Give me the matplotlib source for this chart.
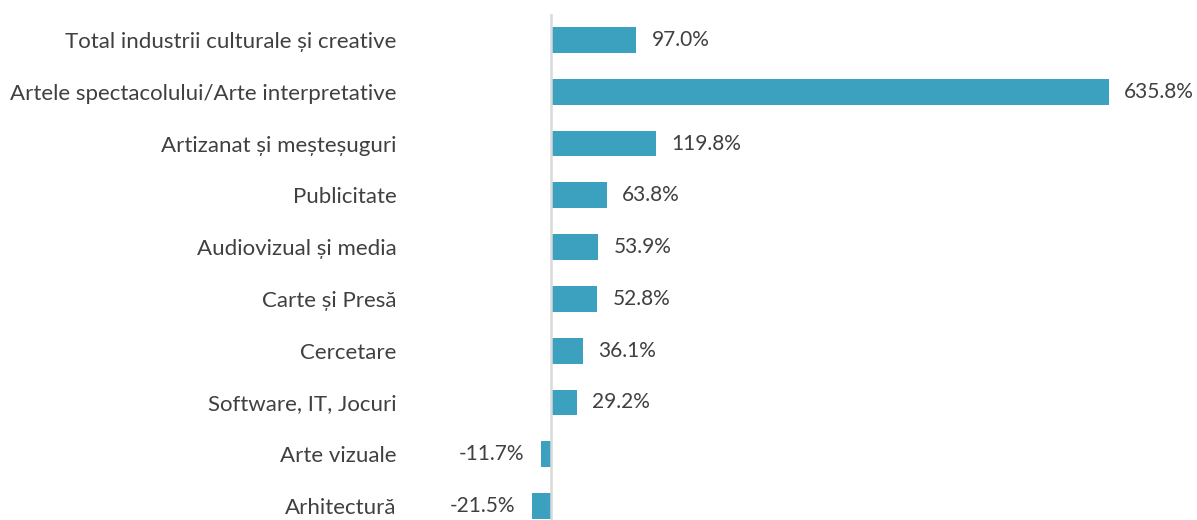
import matplotlib

matplotlib.use("Agg")
import matplotlib.pyplot as plt
from matplotlib.transforms import offset_copy

plt.rcParams["font.family"] = ["Lato", "DejaVu Sans"]

categories = [
    "Total industrii culturale și creative",
    "Artele spectacolului/Arte interpretative",
    "Artizanat și meșteșuguri",
    "Publicitate",
    "Audiovizual și media",
    "Carte și Presă",
    "Cercetare",
    "Software, IT, Jocuri",
    "Arte vizuale",
    "Arhitectură",
]
values = [97.0, 635.8, 119.8, 63.8, 53.9, 52.8, 36.1, 29.2, -11.7, -21.5]

BAR = "#3ba1bf"
TEXT = "#404040"
W, H = 1197, 520

fig = plt.figure(figsize=(W / 100, H / 100), dpi=100)
# axes placed in pixel terms: zero line at x=551, bottom runs slightly past the image
ax = fig.add_axes([530 / W, -12 / H, 590 / W, 518 / H])

ys = list(range(len(categories)))
ax.barh(ys, values, height=0.5, color=BAR, zorder=2)
ax.set_ylim(len(categories) - 0.5, -0.5)
ax.set_xlim(-23.9, 648.3)
ax.axvline(0, color="#d9d9d9", lw=1.8, zorder=3)

ax.set_yticks(ys)
ax.set_yticklabels(categories, fontsize=16, color=TEXT)
ax.tick_params(axis="y", length=0, pad=96)
ax.set_xticks([])
for s in ax.spines.values():
    s.set_visible(False)

right = offset_copy(ax.transData, fig=fig, x=11, y=0, units="points")
left = offset_copy(ax.transData, fig=fig, x=-12, y=0, units="points")
for y, v in zip(ys, values):
    if v >= 0:
        ax.text(v, y, f"{v:.1f}%", transform=right, ha="left", va="center",
                fontsize=15, color=TEXT)
    else:
        ax.text(v, y, f"{v:.1f}%", transform=left, ha="right", va="center",
                fontsize=15, color=TEXT)

fig.savefig("out.png", dpi=100)
